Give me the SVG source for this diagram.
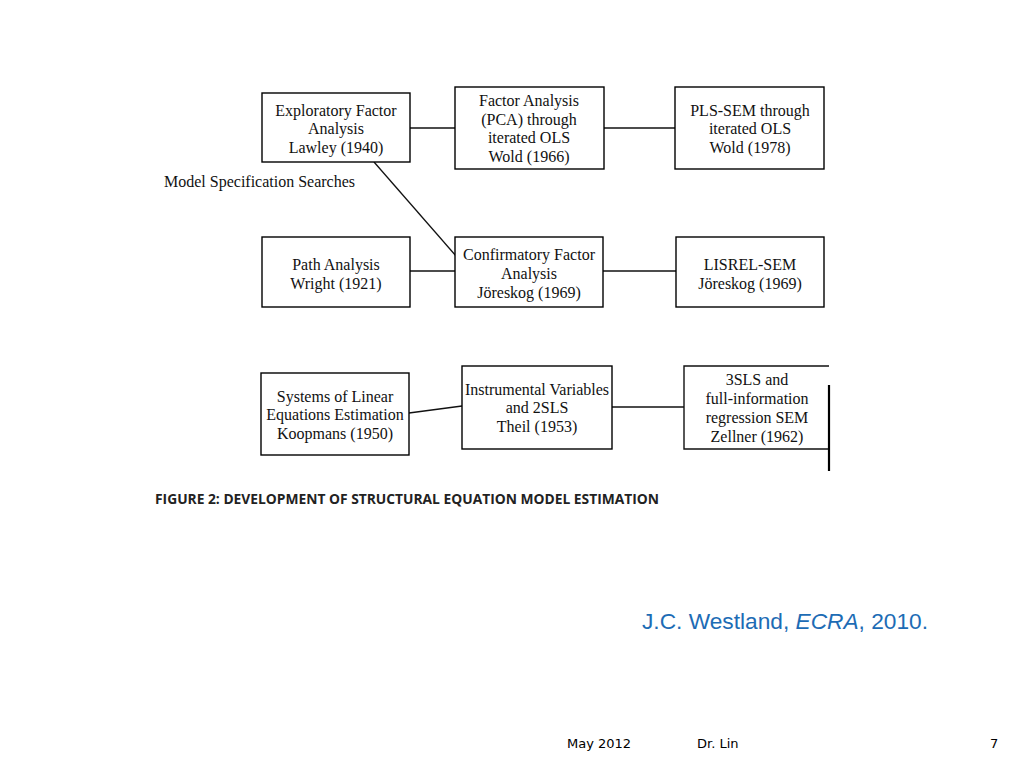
<svg xmlns="http://www.w3.org/2000/svg" width="1024" height="768" viewBox="0 0 1024 768">
<style>
.box{fill:#fff;stroke:#000;stroke-width:1.4}
.t{font-family:"Liberation Serif","Times New Roman",serif;font-size:16px;fill:#111;text-anchor:middle}
.c{stroke:#111;stroke-width:1.3;fill:none}
</style>
<rect width="1024" height="768" fill="#fff"/>
<g id="connectors">
<line class="c" x1="410" y1="128" x2="455" y2="128"/>
<line class="c" x1="604" y1="128" x2="675" y2="128"/>
<line class="c" x1="374" y1="162" x2="456" y2="256"/>
<line class="c" x1="410" y1="271" x2="455" y2="271"/>
<line class="c" x1="603" y1="271" x2="676" y2="271"/>
<line class="c" x1="409" y1="413" x2="462" y2="406"/>
<line class="c" x1="612" y1="407" x2="684" y2="407"/>
</g>
<g id="n1"><rect class="box" x="262" y="93" width="148" height="69"/>
<text class="t"><tspan x="336" y="116">Exploratory Factor</tspan><tspan x="336" y="134">Analysis</tspan><tspan x="336" y="153">Lawley (1940)</tspan></text></g>
<g id="n2"><rect class="box" x="455" y="87" width="149" height="82"/>
<text class="t"><tspan x="529" y="106">Factor Analysis</tspan><tspan x="529" y="125">(PCA) through</tspan><tspan x="529" y="143">iterated OLS</tspan><tspan x="529" y="162">Wold (1966)</tspan></text></g>
<g id="n3"><rect class="box" x="675" y="87" width="149" height="82"/>
<text class="t"><tspan x="750" y="116">PLS-SEM through</tspan><tspan x="750" y="134">iterated OLS</tspan><tspan x="750" y="153">Wold (1978)</tspan></text></g>
<g id="lbl"><text x="164" y="187" style="font-family:'Liberation Serif',serif;font-size:16px;fill:#111">Model Specification Searches</text></g>
<g id="n4"><rect class="box" x="262" y="237" width="148" height="70"/>
<text class="t"><tspan x="336" y="270">Path Analysis</tspan><tspan x="336" y="289">Wright (1921)</tspan></text></g>
<g id="n5"><rect class="box" x="455" y="237" width="148" height="70"/>
<text class="t"><tspan x="529" y="260">Confirmatory Factor</tspan><tspan x="529" y="279">Analysis</tspan><tspan x="529" y="298">Jöreskog (1969)</tspan></text></g>
<g id="n6"><rect class="box" x="676" y="237" width="148" height="70"/>
<text class="t"><tspan x="750" y="270">LISREL-SEM</tspan><tspan x="750" y="289">Jöreskog (1969)</tspan></text></g>
<g id="n7"><rect class="box" x="261" y="373" width="148" height="82"/>
<text class="t"><tspan x="335" y="402">Systems of Linear</tspan><tspan x="335" y="420">Equations Estimation</tspan><tspan x="335" y="439">Koopmans (1950)</tspan></text></g>
<g id="n8"><rect class="box" x="462" y="366" width="150" height="83"/>
<text class="t"><tspan x="537" y="395">Instrumental Variables</tspan><tspan x="537" y="413">and 2SLS</tspan><tspan x="537" y="432">Theil (1953)</tspan></text></g>
<g id="n9"><path class="c" d="M829 366 H684 V449 H829" style="stroke-width:1.4"/>
<line x1="829" y1="385" x2="829" y2="471" stroke="#000" stroke-width="2.2"/>
<text class="t"><tspan x="757" y="385">3SLS and</tspan><tspan x="757" y="404">full-information</tspan><tspan x="757" y="423">regression SEM</tspan><tspan x="757" y="442">Zellner (1962)</tspan></text></g>
<text x="155" y="504" textLength="504" lengthAdjust="spacingAndGlyphs" style="font-family:'Open Sans','Liberation Sans',sans-serif;font-size:13.5px;font-weight:bold;fill:#222">FIGURE 2: DEVELOPMENT OF STRUCTURAL EQUATION MODEL ESTIMATION</text>
<text x="642" y="629" textLength="286" lengthAdjust="spacingAndGlyphs" style="font-family:'Liberation Sans',Arial,sans-serif;font-size:22px;fill:#1d6cb5">J.C. Westland, <tspan font-style="italic">ECRA</tspan>, 2010.</text>
<g style="font-family:'DejaVu Sans',sans-serif;font-size:13px;fill:#000">
<text x="567" y="748">May 2012</text>
<text x="697" y="748">Dr. Lin</text>
<text x="990" y="748">7</text>
</g>
</svg>
